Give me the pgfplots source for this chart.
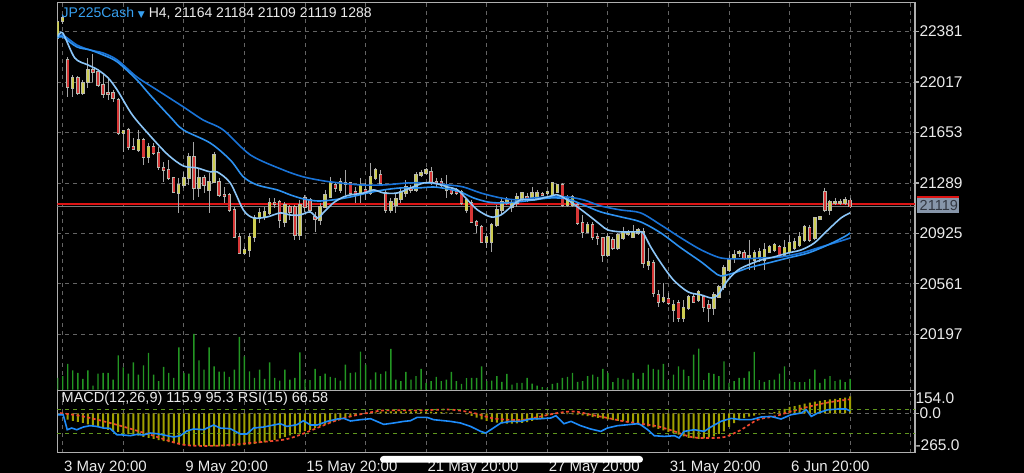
\documentclass[border=0pt]{standalone}
\usepackage{pgfplots}
\pgfplotsset{compat=1.18}
\usepackage{pgfplotstable}
\usepackage{fontspec}
\setmainfont{Liberation Sans}
\newfontfamily\djv{DejaVu Sans}

\definecolor{gridc}{RGB}{100,100,100}
\definecolor{framec}{RGB}{175,175,175}
\definecolor{txtc}{RGB}{235,235,235}
\definecolor{cyel}{RGB}{205,205,80}
\definecolor{cred}{RGB}{215,55,55}
\definecolor{cedge}{RGB}{185,185,175}
\definecolor{cwick}{RGB}{165,165,165}
\definecolor{mafast}{RGB}{140,198,248}
\definecolor{mamid}{RGB}{45,145,240}
\definecolor{maslow}{RGB}{25,115,215}
\definecolor{volg}{RGB}{35,150,35}
\definecolor{histc}{RGB}{160,160,0}
\definecolor{sigc}{RGB}{240,70,45}
\definecolor{rsic}{RGB}{30,140,250}
\definecolor{rsilev}{RGB}{95,150,30}
\definecolor{hdrblue}{RGB}{55,160,240}
\definecolor{askred}{RGB}{220,20,20}
\definecolor{bidgrey}{RGB}{120,120,120}
\definecolor{boxc}{RGB}{135,150,170}
\definecolor{boxtxt}{RGB}{50,55,65}

\pgfplotstableread{
i o h l c
0 22336 22473 22321 22451
1 22458 22495 22437 22480
2 22177 22199 21910 21982
3 21975 22069 21910 22047
4 22047 22062 21924 21939
5 21939 22033 21924 22011
6 22018 22191 21975 22105
7 22105 22220 22018 22090
8 22090 22105 21982 21997
9 21997 22069 21903 21932
10 21939 22047 21888 21932
11 21939 21960 21874 21903
12 21888 21903 21636 21650
13 21650 21672 21513 21665
14 21672 21686 21528 21549
15 21549 21614 21528 21535
16 21528 21672 21513 21600
17 21600 21614 21419 21477
18 21477 21578 21434 21549
19 21549 21578 21491 21506
20 21506 21549 21383 21405
21 21398 21441 21297 21383
22 21383 21455 21311 21325
23 21325 21333 21217 21225
24 21217 21325 21073 21275
25 21275 21369 21253 21325
26 21325 21506 21275 21477
27 21477 21585 21167 21253
28 21253 21398 21188 21325
29 21325 21347 21217 21275
30 21239 21361 21073 21297
31 21297 21513 21289 21491
32 21297 21325 21188 21203
33 21203 21260 21145 21195
34 21203 21217 21080 21094
35 21094 21116 20892 20900
36 20900 20928 20777 20784
37 20784 20827 20770 20806
38 20806 20928 20755 20900
39 20900 21058 20863 21037
40 21037 21109 21001 21073
41 21044 21116 21022 21080
42 21073 21181 21058 21145
43 21145 21181 21109 21138
44 21152 21167 20965 21022
45 21008 21152 20972 21130
46 21116 21130 21022 21080
47 21116 21130 20878 20914
48 20914 21167 20878 21130
49 21181 21203 21080 21116
50 21167 21181 21080 21094
51 21044 21080 20936 21030
52 21022 21145 20986 21116
53 21116 21239 21109 21203
54 21188 21333 21181 21289
55 21275 21297 21225 21253
56 21239 21325 21217 21297
57 21282 21383 21203 21289
58 21289 21297 21203 21217
59 21225 21260 21145 21203
60 21217 21325 21145 21275
61 21239 21289 21167 21225
62 21217 21434 21203 21333
63 21325 21398 21311 21383
64 21347 21383 21275 21289
65 21217 21239 21073 21094
66 21094 21181 21073 21152
67 21130 21217 21073 21174
68 21174 21260 21145 21225
69 21217 21311 21188 21260
70 21253 21275 21217 21239
71 21239 21369 21225 21347
72 21347 21383 21333 21361
73 21361 21398 21347 21383
74 21369 21405 21275 21297
75 21297 21325 21253 21289
76 21297 21325 21253 21275
77 21239 21347 21181 21275
78 21239 21260 21203 21217
79 21225 21253 21203 21217
80 21225 21239 21130 21145
81 21094 21181 21073 21167
82 21145 21167 21001 21008
83 21008 21022 20928 20986
84 20972 20986 20856 20863
85 20863 20928 20820 20900
86 20863 21001 20791 20986
87 20986 21130 20972 21094
88 21094 21181 21058 21152
89 21145 21188 21130 21167
90 21116 21167 21080 21145
91 21145 21217 21116 21188
92 21181 21225 21152 21217
93 21188 21217 21152 21167
94 21181 21260 21167 21217
95 21181 21239 21167 21217
96 21210 21225 21195 21203
97 21217 21232 21203 21225
98 21203 21297 21188 21289
99 21225 21275 21217 21275
100 21275 21289 21116 21130
101 21130 21203 21116 21181
102 21130 21203 21116 21188
103 21130 21152 20986 21001
104 21001 21058 20892 20936
105 20936 21008 20928 20986
106 20986 21008 20878 20900
107 20900 20928 20842 20892
108 20892 20900 20719 20770
109 20770 20928 20755 20900
110 20878 20900 20806 20820
111 20820 20928 20806 20914
112 20892 20972 20878 20936
113 20921 20950 20907 20936
114 20900 20986 20892 20936
115 20928 20965 20914 20950
116 20936 20965 20676 20712
117 20697 20820 20661 20719
118 20712 20734 20467 20495
119 20481 20517 20394 20430
120 20438 20568 20423 20459
121 20452 20495 20409 20423
122 20373 20445 20286 20409
123 20423 20445 20286 20315
124 20315 20445 20286 20387
125 20387 20481 20373 20467
126 20467 20495 20423 20430
127 20445 20517 20430 20503
128 20467 20481 20358 20394
129 20409 20445 20286 20387
130 20387 20503 20337 20481
131 20467 20553 20459 20539
132 20539 20697 20517 20676
133 20661 20770 20647 20734
134 20748 20806 20712 20770
135 20784 20806 20755 20791
136 20784 20806 20734 20748
137 20748 20878 20661 20762
138 20734 20806 20661 20784
139 20755 20820 20719 20791
140 20734 20856 20661 20806
141 20791 20842 20784 20827
142 20806 20856 20791 20842
143 20827 20842 20755 20770
144 20770 20878 20755 20820
145 20791 20914 20784 20856
146 20820 20892 20806 20863
147 20842 20936 20827 20900
148 20878 20986 20863 20972
149 20965 20986 20863 20878
150 20892 21044 20878 21037
151 21030 21051 21022 21044
152 21225 21253 21080 21094
153 21094 21167 21058 21152
154 21145 21181 21130 21152
155 21145 21174 21130 21152
156 21145 21188 21130 21167
157 21164 21184 21109 21119
}\candles

\pgfplotstableread{
i v
0 11.7
1 13.3
2 25.7
3 19.3
4 16.7
5 10.7
6 19.3
7 4.0
8 16
9 16.7
10 16.7
11 10
12 34.3
13 22.3
14 16
15 27.3
16 15
17 24.3
18 36.7
19 15
20 8.3
21 22.7
22 16.7
23 11.7
24 42.3
25 16.7
26 16
27 55.7
28 29.3
29 20
30 42.3
31 23.3
32 18
33 18
34 12.7
35 20
36 52.7
37 33.3
38 18.3
39 11.7
40 20
41 10.7
42 27.3
43 11.7
44 9
45 20
46 10
47 11.7
48 37.3
49 10
50 9.3
51 20.7
52 13.3
53 16
54 12.7
55 11.7
56 9
57 25
58 16.7
59 17.3
60 38
61 25
62 10
63 17.3
64 15.7
65 18.3
66 40.7
67 10
68 8.3
69 17.7
70 10
71 13.3
72 20.7
73 6.7
74 8.3
75 12.7
76 8.3
77 10
78 17.7
79 8.3
80 5.7
81 11.3
82 11.7
83 11.7
84 23.3
85 8.3
86 9
87 13.3
88 7.7
89 15.7
90 5
91 6.7
92 6.7
93 11.7
94 6
95 4
96 2.3
97 1.7
98 5.7
99 6.7
100 11.7
101 12.7
102 16.7
103 7.7
104 8.3
105 13.3
106 15
107 12.7
108 20.7
109 16.7
110 7.3
111 11.7
112 10.7
113 10
114 16.7
115 10.7
116 16.7
117 25
118 20.7
119 20
120 25.7
121 9.3
122 15
123 23.3
124 20
125 13.3
126 35
127 41
128 9.3
129 16.7
130 15.7
131 13.3
132 28.3
133 6.7
134 8.3
135 11.7
136 11.7
137 18.3
138 37.7
139 9.3
140 7.7
141 9.3
142 10
143 16
144 23.3
145 9
146 7.3
147 7.3
148 7.3
149 10.7
150 20
151 6.7
152 10.7
153 13.3
154 8.3
155 10
156 7.3
157 10.7
}\volume

\pgfplotstableread{
i m
0 0
1 -8
2 -42
3 -50
4 -57
5 -64
6 -73
7 -82
8 -90
9 -100
10 -110
11 -118
12 -125
13 -132
14 -138
15 -143
16 -150
17 -158
18 -165
19 -172
20 -180
21 -186
22 -193
23 -200
24 -207
25 -212
26 -215
27 -217
28 -218
29 -220
30 -221
31 -222
32 -222
33 -222
34 -222
35 -220
36 -217
37 -214
38 -211
39 -206
40 -201
41 -196
42 -187
43 -178
44 -169
45 -158
46 -148
47 -138
48 -130
49 -120
50 -110
51 -99
52 -87
53 -75
54 -63
55 -52
56 -40
57 -30
58 -24
59 -16
60 -8
61 -2
62 4
63 8
64 12
65 12
66 14
67 14
68 14
69 12
70 14
71 14
72 12
73 12
74 12
75 10
76 10
77 8
78 5
79 3
80 0
81 -6
82 -16
83 -28
84 -40
85 -50
86 -56
87 -61
88 -66
89 -69
90 -69
91 -67
92 -64
93 -58
94 -50
95 -42
96 -30
97 -12
98 -6
99 -4
100 -3
101 -4
102 -6
103 -8
104 -12
105 -18
106 -24
107 -30
108 -35
109 -40
110 -45
111 -50
112 -54
113 -60
114 -67
115 -74
116 -80
117 -87
118 -94
119 -104
120 -114
121 -124
122 -132
123 -143
124 -154
125 -165
126 -169
127 -172
128 -168
129 -162
130 -155
131 -138
132 -121
133 -90
134 -65
135 -45
136 -32
137 -22
138 -15
139 -7
140 -1
141 5
142 10
143 20
144 32
145 44
146 50
147 58
148 66
149 73
150 80
151 86
152 90
153 95
154 99
155 103
156 108
157 115.9
}\macdhist

\pgfplotsset{
  base/.style={scale only axis, width=857.7pt, xmin=-0.07, xmax=169.85,
    scaled ticks=false,
    xtick={1,13,...,169}, xtick style={draw=none},
    axis line style={draw=framec, line width=1.4pt},
    grid style={gridc, dash pattern=on 4pt off 4pt, line width=0.9pt},
    tick label style={color=txtc},
    yticklabel style={font=\fontsize{15.5}{17}\selectfont},
    xticklabel style={font=\fontsize{15}{17}\selectfont},
    ytick pos=right, yticklabel pos=right, tick align=outside,
    major tick length=4pt, ytick style={draw=framec, line width=1.2pt},
    yticklabel style={anchor=west, inner sep=0pt, xshift=0.3pt}},
}

\begin{document}
\begin{tikzpicture}[x=1pt,y=1pt]
\fill[black] (0,0) rectangle (1024,473);

% ---------- main price panel ----------
\begin{axis}[base, at={(57.3pt,82.3pt)}, anchor=south west, height=388pt,
  ymin=19790, ymax=22590,
  ytick={20197,20561,20925,21289,21653,22017,22381},
  yticklabels={20197,20561,20925,21289,21653,22017,22381},
  xticklabel=\empty, xmajorgrids, ymajorgrids]
\draw[bidgrey, line width=1.2pt] (axis cs:-0.07,21121) -- (axis cs:169.85,21121);
\draw[askred, line width=1.6pt] (axis cs:-0.07,21138) -- (axis cs:169.85,21138);
% wicks
\addplot[cwick, line width=1pt, quiver={u=0, v=\thisrow{l}-\thisrow{h}}]
  table[x=i, y=h]{\candles};
% bullish bodies
\addplot[cedge, line width=3.4pt, quiver={u=0, v=\thisrow{c}-\thisrow{o}+10},
  restrict expr to domain={\thisrow{c}-\thisrow{o}}{0:100000}]
  table[x=i, y expr=\thisrow{o}-5]{\candles};
\addplot[cyel, line width=2.2pt, quiver={u=0, v=\thisrow{c}-\thisrow{o}},
  restrict expr to domain={\thisrow{c}-\thisrow{o}}{0:100000}]
  table[x=i, y=o]{\candles};
% bearish bodies
\addplot[cedge, line width=3.4pt, quiver={u=0, v=\thisrow{c}-\thisrow{o}-10},
  restrict expr to domain={\thisrow{c}-\thisrow{o}}{-100000:-0.5}]
  table[x=i, y expr=\thisrow{o}+5]{\candles};
\addplot[cred, line width=2.2pt, quiver={u=0, v=\thisrow{c}-\thisrow{o}},
  restrict expr to domain={\thisrow{c}-\thisrow{o}}{-100000:-0.5}]
  table[x=i, y=o]{\candles};
% moving averages
\addplot[maslow, line width=1.6pt, smooth] table {
0 22343
1 22357
3.8 22285
6.4 22249
9 22227
11.8 22177
15.7 22054
19.7 21960
24.9 21838
28.8 21744
32.8 21672
38.2 21491
44.7 21383
48.7 21333
52.7 21304
56 21289
60 21275
64.6 21275
69.3 21289
73.3 21289
77.3 21275
80.4 21260
83.8 21217
87.8 21181
91.1 21167
94.3 21181
97.7 21188
101 21188
104.2 21167
107.6 21123
111.6 21094
115.5 21073
119.5 20986
123.5 20892
127.5 20806
131.4 20748
135.4 20741
139.4 20748
143.3 20755
147.3 20784
151.2 20827
155.2 20871
157 20892
};
\addplot[mamid, line width=1.6pt, smooth] table {
0 22336
1 22343
3.8 22271
6.4 22249
9 22213
11.8 22163
15.7 22033
18.3 21924
22.3 21766
24.9 21672
30.2 21578
34.2 21455
36.8 21333
39.5 21275
43.5 21239
46.1 21203
48.7 21174
51.5 21159
54.6 21167
58 21188
61.4 21217
64.6 21239
67.9 21253
71.3 21253
74.5 21260
77.3 21246
79.8 21224
82.4 21181
85.2 21152
87.8 21145
91.1 21152
94.3 21167
97.7 21181
101 21174
104.2 21130
107.6 21080
111.6 21044
115.5 21008
119.5 20928
123.5 20820
127.5 20719
130 20647
131.4 20618
134 20640
136.8 20676
140.8 20712
144.7 20748
148.7 20784
152.6 20842
155.8 20900
157 20928
};
\addplot[mafast, line width=1.6pt, smooth] table {
0 22343
1 22372
3.4 22191
6 22141
8 22105
10 22047
11.8 21960
14.8 21780
18.7 21614
21.9 21491
24.9 21412
27.6 21398
30.2 21369
31.6 21369
34.2 21289
36.8 21094
38.8 21037
41.5 21044
44.1 21073
46.1 21058
48 21058
50 21080
51.5 21037
52.6 21073
54.6 21145
56.6 21188
58 21203
60.6 21217
62.6 21239
64.6 21217
67.3 21217
69.9 21253
72.5 21289
74.5 21289
77.3 21260
79.2 21239
81.2 21167
83.2 21094
85.8 21044
87.8 21058
89.8 21116
91.7 21167
94.3 21167
97 21188
99 21203
101 21167
103 21116
105.6 21044
107.6 20986
109 20950
111.6 20936
115 20936
116 20928
117.5 20827
119.5 20712
122 20589
124.9 20503
127.5 20481
129.5 20459
130.8 20481
132.8 20589
134.8 20661
136.8 20698
139.4 20734
141.9 20755
144.7 20784
147.3 20806
149.9 20856
152.6 20950
155.2 21037
157 21073
};
\end{axis}

% ---------- volume ----------
\begin{axis}[scale only axis, width=857.7pt, height=388pt, at={(57.3pt,82.3pt)}, anchor=south west,
  xmin=-0.07, xmax=169.85, ymin=-1.2, ymax=388, hide axis]
\addplot[ybar, bar width=1.4pt, fill=volg, draw=none] table[x=i, y=v]{\volume};
\end{axis}

% ---------- MACD panel ----------
\begin{axis}[base, at={(57.3pt,20.3pt)}, anchor=south west, height=62pt,
  ymin=-265, ymax=154,
  ytick={0}, yticklabels={0.0}, xmajorgrids, ymajorgrids,
  extra y ticks={154,-265},
  extra y tick labels={\raisebox{-12.6pt}[0pt][0pt]{154.0},\raisebox{2.4pt}[0pt][0pt]{-265.0}},
  extra y tick style={major tick length=0pt, grid=none},
  xticklabels={{3 May 20:00},{},{9 May 20:00},{},{15 May 20:00},{},{21 May 20:00},{},{27 May 20:00},{},{31 May 20:00},{},{6 Jun 20:00},{},{}},
  xticklabel style={anchor=north west, inner sep=0pt, yshift=-4.5pt, xshift=1.3pt}]
\addplot[ybar, bar width=2pt, fill=histc, draw=none] table[x=i, y=m]{\macdhist};
\addplot[sigc, line width=1.7pt, dash pattern=on 3pt off 2.5pt, smooth] table {
0.5 3
5.1 -20
11.7 -76
18.3 -143
24.9 -211
31.6 -218
38.2 -199
44.8 -177
48.1 -143
51.4 -98
54.7 -53
58 -20
61.3 3
64.6 21
71.2 21
77.8 26
82.5 3
85.8 -30
89.1 -42
92.4 -42
95.7 -20
99 3
102.3 14
105.6 -8
108.9 -30
112.2 -53
115.5 -69
118.9 -87
122.2 -121
125.5 -159
128.8 -166
132.1 -159
135.4 -110
138.7 -42
142 -20
145.3 14
148.6 44
151.9 70
155.2 88
157 95.3
};
\end{axis}

% ---------- RSI overlay ----------
\begin{axis}[scale only axis, width=857.7pt, height=62pt, at={(57.3pt,20.3pt)}, anchor=south west,
  xmin=-0.07, xmax=169.85, ymin=-2.8, ymax=100.5, scaled ticks=false,
  xtick=\empty, ytick={30,70}, yticklabel=\empty, ytick style={draw=none},
  ymajorgrids, grid style={rsilev, dash pattern=on 4pt off 4pt, line width=1pt},
  axis line style={draw=none}]
\addplot[rsic, line width=1.6pt] table {
0.1 60.5
1.1 60.5
1.9 35.5
2.8 38.3
3.8 35.5
5.1 40
6.4 42.2
7.7 41
9.1 38.3
10.4 37.7
11.7 27.2
13 26.7
14.4 25.5
15.7 27.7
17 26.7
18.3 30
19.7 28.8
21 26.7
23 23.3
24.3 25.5
25.6 33.3
26.9 36.7
28.9 35.5
30.9 43.3
32.2 38.3
34.2 37.2
36.2 28.3
37.5 28.3
38.8 38.3
40.8 40
42.1 42.2
44.1 45.5
45.4 41
47.4 43.8
48.7 50.5
50.1 43.3
51.4 43.3
53.4 49.4
55.4 53.3
56.7 54.4
58 50
60 52.2
62 53.8
64.6 44.4
66.6 46.7
68.6 49.4
69.9 50.5
71.2 56
73.2 56
74.5 52.2
75.9 51
77.8 49.4
79.8 46.7
81.8 41
83.8 32.7
84.8 30
85.8 35.5
87.8 46.7
89.7 49.4
91.7 49.4
93.7 53.3
95.7 53.8
97.7 55
98.7 58.8
100.3 45.5
101.7 49.4
103.6 42.2
105.6 36.7
107.6 32.7
108.9 38.3
110.9 42.2
112.9 43.8
114.9 45.5
115.5 43.8
116.9 35.5
118.2 25.5
120.2 24.4
122.2 25.5
123.1 21.7
124.1 32.7
126.1 35.5
128.1 32.7
129.4 40
131.4 49.4
133.4 54.4
135.4 52.2
137.4 52.2
139.4 56.7
141.3 57.7
143.3 53.3
145.3 60.5
147.3 63.3
148.3 68.8
149.3 57.7
150.6 63.3
152.6 68.8
154.6 70
156.2 70
157 66.58
};
\end{axis}

% ---------- texts and overlays ----------
\node[anchor=base west, inner sep=0pt, font=\fontsize{14}{16}\selectfont] at (61.5,455)
  {\textcolor{hdrblue}{JP225Cash\ {\djv\fontsize{9}{11}\selectfont ▼}}\ \textcolor{txtc}{H4, 21164 21184 21109 21119 1288}};
\node[anchor=base west, inner sep=0pt, font=\fontsize{14.5}{16}\selectfont, text=txtc] at (61.5,70.5)
  {MACD(12,26,9) 115.9 95.3 RSI(15) 66.58};
\fill[boxc] (917,260) rectangle (959,275);
\fill[askred] (917,274.5) rectangle (959,276.5);
\node[anchor=base west, inner sep=0pt, font=\fontsize{14.5}{16}\selectfont, text=boxtxt] at (919.5,262.3) {21119};
\fill[white, rounded corners=3.3pt] (380,10.3) rectangle (643,17);

\pgfresetboundingbox
\useasboundingbox (0,0) rectangle (1024,473);
\end{tikzpicture}
\end{document}
